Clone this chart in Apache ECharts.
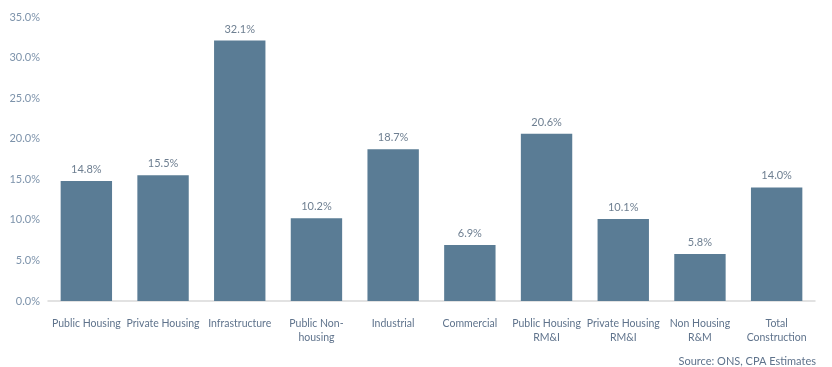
<!DOCTYPE html>
<html>
<head>
<meta charset="utf-8">
<script src="https://cdn.jsdelivr.net/npm/echarts@6/dist/echarts.min.js"></script>
<style>
  html, body { margin: 0; padding: 0; background: #fff; }
  #chart { width: 832px; height: 367px; }
</style>
</head>
<body>
<div id="chart"></div>
<script>
// Construction output growth by sector
const categories = [
  'Public Housing', 'Private Housing', 'Infrastructure', 'Public Non-\nhousing',
  'Industrial', 'Commercial', 'Public Housing\nRM&I', 'Private Housing\nRM&I',
  'Non Housing\nR&M', 'Total\nConstruction'
];
const values = [14.8, 15.5, 32.1, 10.2, 18.7, 6.9, 20.6, 10.1, 5.8, 14.0];
const yTicks = { min: 0, max: 35, step: 5 };
const sourceNote = 'Source: ONS, CPA Estimates';

const font = 'Lato, "Open Sans", sans-serif';
const chart = echarts.init(document.getElementById('chart'));
chart.setOption({
  animation: false,
  grid: { left: 48, right: 17, top: 17, bottom: 66 },
  xAxis: {
    type: 'category',
    data: categories,
    axisLine: { lineStyle: { color: '#d9d9d9', width: 1.5 } },
    axisTick: { show: false },
    axisLabel: {
      interval: 0, color: '#5f738c', fontFamily: font, fontSize: 10.5,
      margin: 16, lineHeight: 14
    }
  },
  yAxis: {
    type: 'value',
    min: yTicks.min, max: yTicks.max, interval: yTicks.step,
    splitLine: { show: false },
    axisLine: { show: false },
    axisTick: { show: false },
    axisLabel: {
      color: '#7d93ab', fontFamily: font, fontSize: 11, margin: 8,
      formatter: v => v.toFixed(1) + '%'
    }
  },
  series: [{
    type: 'bar',
    data: values,
    barCategoryGap: '33%',
    itemStyle: { color: '#5a7c95' },
    label: {
      show: true, position: 'top', distance: 6,
      color: '#6e7f91', fontFamily: font, fontSize: 11,
      formatter: p => p.value.toFixed(1) + '%'
    }
  }],
  graphic: [{
    type: 'text', right: 16, bottom: 0,
    style: { text: sourceNote, fill: '#5f738c', font: '11px ' + font }
  }]
});
</script>
</body>
</html>
